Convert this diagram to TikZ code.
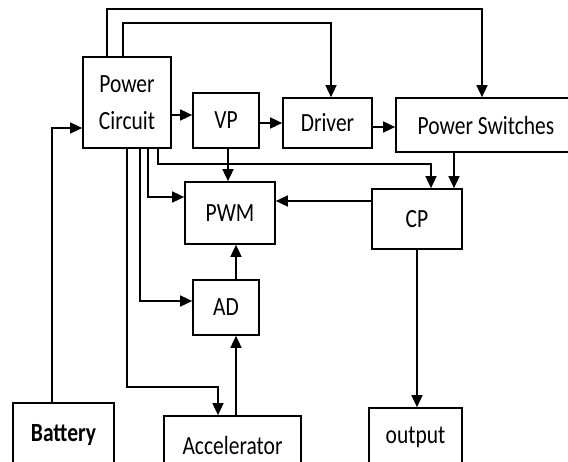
\documentclass[tikz,border=0pt]{standalone}
\usepackage{fontspec}
\setmainfont{Carlito}
\usetikzlibrary{arrows.meta, positioning, calc}
\newcommand{\tall}[1]{\scalebox{1}[1.22]{#1}}
\tikzset{
  every picture/.style={x=1pt, y=-1pt, line width=1.6pt},
  block/.style={draw, line width=1.7pt, align=center, inner sep=0pt,
    font=\fontsize{21.5}{26}\selectfont},
  link/.style={-{Triangle[length=12pt, width=11pt]}, line width=1.6pt},
}

\begin{document}
\begin{tikzpicture}
  \useasboundingbox (0,0) rectangle (568,461);
  % blocks
  \node[block, minimum width=88pt, minimum height=91pt, font=\fontsize{21.5}{37}\selectfont] (pc) at (127,102.5) {\tall{Power}\\\tall{Circuit}};
  \node[block, minimum width=66pt, minimum height=55pt] (vp) at (226,120.5) {\tall{VP}};
  \node[block, minimum width=89pt, minimum height=50pt] (drv) at (327.5,123) {\tall{Driver}};
  \node[block, minimum width=180pt, minimum height=54pt] (ps) at (486,125) {\tall{Power Switches}};
  \node[block, minimum width=90pt, minimum height=62pt] (pwm) at (230,213) {\tall{PWM}};
  \node[block, minimum width=90pt, minimum height=60pt] (cp) at (417,219) {\tall{CP}};
  \node[block, minimum width=66pt, minimum height=55pt] (ad) at (226,307.5) {\tall{AD}};
  \node[block, minimum width=101pt, minimum height=64pt, font=\fontsize{21.5}{26}\selectfont\bfseries] (bat) at (63.5,435) {\tall{Battery}};
  \node[block, minimum width=137pt, minimum height=58pt] (acc) at (232.5,445) {\tall{Accelerator}};
  \node[block, minimum width=93pt, minimum height=58pt] (out) at (415.5,437) {\tall{output}};
  % forward chain
  \draw[link] ([yshift=-12.5pt]pc.east) -- ([yshift=-12.5pt]pc.east -| vp.west);
  \draw[link] (vp.east |- drv) -- (drv.west);
  \draw[link] ([yshift=-4pt]drv.east) -- ([yshift=-4pt]drv.east -| ps.west);
  % supply lines over the top
  \draw[link] ([xshift=-20pt]pc.north) -- ++(0,47pt) -| ([xshift=-4pt]ps.north);
  \draw[link] ([xshift=-4pt]pc.north) -- ++(0,33pt) -| ([xshift=3.5pt]drv.north);
  % battery in
  \draw[link] ([xshift=-11.5pt]bat.north) |- ([yshift=-25.5pt]pc.west);
  % supply lines below
  \draw[link] ([xshift=21pt]pc.south) |- ([yshift=16pt]pwm.west);
  \draw[link] ([xshift=31pt]pc.south) -- ++(0,-15pt) -| ([xshift=14pt]cp.north);
  \draw[link] ([xshift=13pt]pc.south) |- ([yshift=6.5pt]ad.west);
  \draw[link] (pc.south) -- ++(0,-238pt) -| ([xshift=-14.5pt]acc.north);
  % signals
  \draw[link] ([xshift=2pt]vp.south) -- ([xshift=2pt]vp.south |- pwm.north);
  \draw[link] ([xshift=-32pt]ps.south) -- ([xshift=-32pt]ps.south |- cp.north);
  \draw[link] ([yshift=18pt]cp.west) -- ([yshift=18pt]cp.west -| pwm.east);
  \draw[link] ([xshift=10pt]ad.north) -- ([xshift=10pt]ad.north |- pwm.south);
  \draw[link] ([xshift=3.5pt]acc.north) -- ([xshift=3.5pt]acc.north |- ad.south);
  \draw[link] (cp.south) -- (cp.south |- out.north);
\end{tikzpicture}
\end{document}
